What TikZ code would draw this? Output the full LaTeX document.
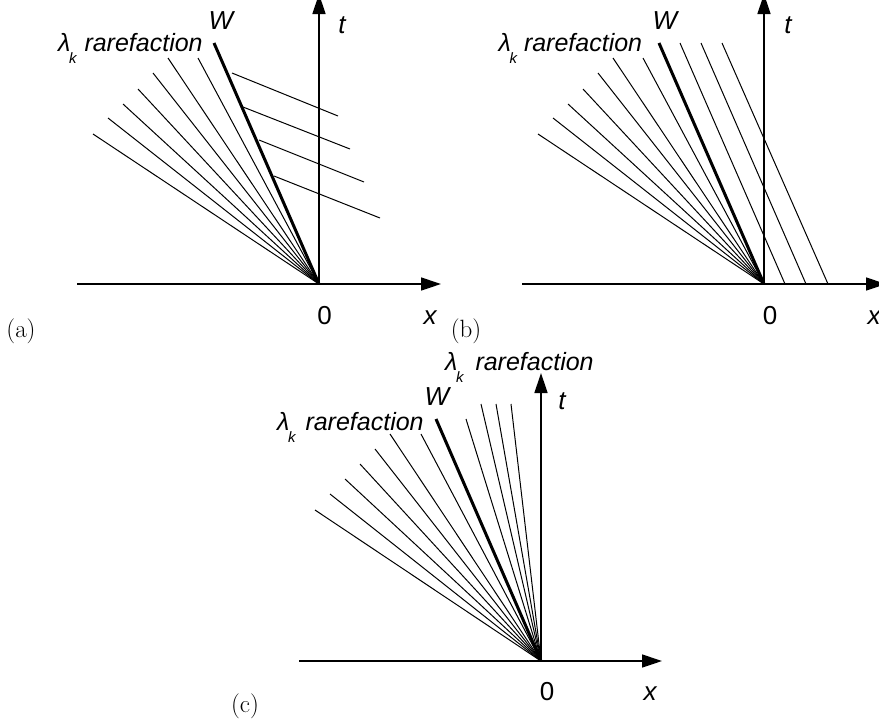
\documentclass[tikz,border=0pt]{standalone}
\usepackage{fontspec}
\newfontfamily\labfont{Liberation Sans}
\usetikzlibrary{arrows.meta}
\newcommand\lamk{\(\)\textit{λ}\kern-1.5pt\raisebox{-12pt}{\fontsize{15}{15}\selectfont\itshape k}}
\begin{document}
\begin{tikzpicture}[x=1pt,y=-1pt,
  fan/.style={line width=1pt},
  wave/.style={line width=3pt},
  axis/.style={line width=1.4pt,-{Triangle[length=20pt,width=13pt]}},
  lbl/.style={inner sep=0pt,anchor=base,font=\labfont\fontsize{26}{26}\selectfont\itshape},
  lblw/.style={inner sep=0pt,anchor=base west,font=\labfont\fontsize{25}{25}\selectfont\itshape},
  num/.style={inner sep=0pt,anchor=base,font=\labfont\fontsize{26}{26}\selectfont},
  panel/.style={inner sep=0pt,anchor=base,font=\fontsize{25}{25}\selectfont}]
\useasboundingbox (0,0) rectangle (879,724);

% ---------------- (a) ----------------
\coordinate (Oa) at (319,284);
\coordinate (axL) at (77,284);
\coordinate (axR) at (441,284);
\coordinate (atT) at (319,-6);
\draw[axis] (axL) -- (axR);
\draw[axis] (Oa) -- (atT);
\foreach \i/\x/\y in {1/93/134,2/108/118,3/123/104,4/138/89,5/153/73,6/168/58,7/198/58}
  \coordinate (fa\i) at (\x,\y);
\foreach \i in {1,...,7} \draw[fan] (Oa) -- (fa\i);
\coordinate (Wa) at (214,43);
\draw[wave] (Oa) -- (Wa);
\foreach \i/\xa/\ya/\xb/\yb in {1/232/73/338/116,2/243/107/350/149,3/259/140/364/182,4/274/176/380/218}{
  \coordinate (ra\i) at (\xa,\ya);
  \coordinate (sa\i) at (\xb,\yb);
  \draw[fan] (ra\i) -- (sa\i);
}
\node[lblw] (laba) at (58,51.7) {\lamk\hspace{8pt}rarefaction};
\node[lbl] (Wla) at (221,29) {W};
\node[lbl] (tla) at (342,33) {t};
\node[num] (za) at (324.5,324) {0};
\node[lbl] (xla) at (430,324) {x};
\node[panel] (pa) at (21,337) {(a)};

% ---------------- (b) ----------------
\coordinate (Ob) at (764,284);
\coordinate (bxL) at (522,284);
\coordinate (bxR) at (886,284);
\coordinate (btT) at (764,-6);
\draw[axis] (bxL) -- (bxR);
\draw[axis] (Ob) -- (btT);
\foreach \i/\x/\y in {1/538/134,2/553/118,3/568/104,4/583/89,5/598/73,6/613/58,7/643/58}
  \coordinate (fb\i) at (\x,\y);
\foreach \i in {1,...,7} \draw[fan] (Ob) -- (fb\i);
\coordinate (Wb) at (659,43);
\draw[wave] (Ob) -- (Wb);
\foreach \i/\xa/\xb in {1/680/785,2/701/806,3/722/828}{
  \coordinate (rb\i) at (\xa,43);
  \coordinate (sb\i) at (\xb,284);
  \draw[fan] (rb\i) -- (sb\i);
}
\node[lblw] (labb) at (498.5,51.7) {\lamk\hspace{7pt}rarefaction};
\node[lbl] (Wlb) at (665,29) {W};
\node[lbl] (tlb) at (788,33) {t};
\node[num] (zb) at (770,324) {0};
\node[lbl] (xlb) at (874,324) {x};
\node[panel] (pb) at (466,337) {(b)};

% ---------------- (c) ----------------
\coordinate (Oc) at (541,661);
\coordinate (cxL) at (299,661);
\coordinate (cxR) at (662,661);
\coordinate (ctT) at (541,373);
\draw[axis] (cxL) -- (cxR);
\draw[axis] (Oc) -- (ctT);
\foreach \i/\x/\y in {1/315/510,2/330/494,3/345/479,4/360/464,5/375/449,6/390/434,7/421/434,8/466/419,9/481/404,10/496/404,11/511/404}
  \coordinate (fc\i) at (\x,\y);
\foreach \i in {1,...,11} \draw[fan] (Oc) -- (fc\i);
\coordinate (Wc) at (436,419);
\draw[wave] (Oc) -- (Wc);
\node[lblw] (labc) at (277,430) {\lamk\hspace{10pt}rarefaction};
\node[lblw] (labc2) at (445,370) {\lamk\hspace{12pt}rarefaction};
\node[lbl] (Wlc) at (437,405) {W};
\node[lbl] (tlc) at (562,409) {t};
\node[num] (zc) at (547,700) {0};
\node[lbl] (xlc) at (650,700) {x};
\node[panel] (pc) at (245,712) {(c)};
\end{tikzpicture}
\end{document}
